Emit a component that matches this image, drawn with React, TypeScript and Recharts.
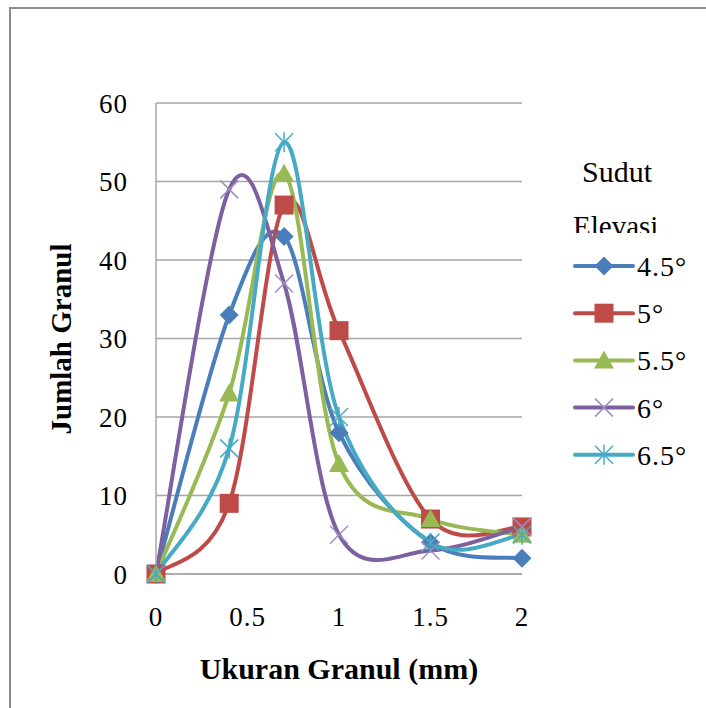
import React from "react";
import { CartesianGrid, Legend, Line, LineChart, XAxis, YAxis } from "recharts";

const xValues = [0, 0.4, 0.7, 1, 1.5, 2];
const sudut45 = [0, 33, 43, 18, 4, 2];
const sudut5 = [0, 9, 47, 31, 7, 6];
const sudut55 = [0, 23, 51, 14, 7, 5];
const sudut6 = [0, 49, 37, 5, 3, 6];
const sudut65 = [0, 16, 55, 20, 4, 5];

const xTicks = [0, 0.5, 1, 1.5, 2];
const yTicks = [0, 10, 20, 30, 40, 50, 60];

const seriesNames = ["4.5°", "5°", "5.5°", "6°", "6.5°"];
const seriesValues = [sudut45, sudut5, sudut55, sudut6, sudut65];
const seriesColors = ["#4A7EBB", "#BE4B48", "#98B954", "#7D60A0", "#46AAC5"];
const seriesMarkers = ["diamond", "square", "triangle", "cross", "star"];

const rows = xValues.map((x, i) => {
  const row: Record<string, number> = { x };
  seriesNames.forEach((name, s) => {
    row[name] = seriesValues[s][i];
  });
  return row;
});

const FONT = "'Liberation Serif', 'Times New Roman', serif";

// excel style smoothing (catmull-rom as cubic bezier)
const excelSmooth = (context: any) => {
  let pts: number[][] = [];
  return {
    areaStart() {},
    areaEnd() {},
    lineStart() {
      pts = [];
    },
    point(x: number, y: number) {
      pts.push([+x, +y]);
    },
    lineEnd() {
      const n = pts.length;
      if (!n) return;
      context.moveTo(pts[0][0], pts[0][1]);
      for (let i = 0; i < n - 1; i++) {
        const p0 = pts[Math.max(i - 1, 0)];
        const p1 = pts[i];
        const p2 = pts[i + 1];
        const p3 = pts[Math.min(i + 2, n - 1)];
        context.bezierCurveTo(
          p1[0] + (p2[0] - p0[0]) / 6,
          p1[1] + (p2[1] - p0[1]) / 6,
          p2[0] - (p3[0] - p1[0]) / 6,
          p2[1] - (p3[1] - p1[1]) / 6,
          p2[0],
          p2[1]
        );
      }
    },
  };
};

function Marker({ kind, cx, cy, color }: { kind: string; cx: number; cy: number; color: string }) {
  if (kind === "diamond") {
    return <polygon points={`${cx},${cy - 9.5} ${cx + 9.5},${cy} ${cx},${cy + 9.5} ${cx - 9.5},${cy}`} fill={color} />;
  }
  if (kind === "square") {
    return <rect x={cx - 9.5} y={cy - 9.5} width={19} height={19} fill={color} />;
  }
  if (kind === "triangle") {
    return <polygon points={`${cx},${cy - 10} ${cx + 10},${cy + 8} ${cx - 10},${cy + 8}`} fill={color} />;
  }
  const light = kind === "cross" ? "#9F8BC0" : color;
  return (
    <g stroke={light} strokeWidth={1.5}>
      <line x1={cx - 9} y1={cy - 9} x2={cx + 9} y2={cy + 9} />
      <line x1={cx - 9} y1={cy + 9} x2={cx + 9} y2={cy - 9} />
      {kind === "star" && <line x1={cx} y1={cy - 10} x2={cx} y2={cy + 10} />}
    </g>
  );
}

const makeDot = (s: number) => (props: any) => {
  const { cx, cy, index } = props;
  if (cx == null || cy == null) return <g key={`d-${s}-${index}`} />;
  return (
    <g key={`d-${s}-${index}`}>
      <Marker kind={seriesMarkers[s]} cx={cx} cy={cy} color={seriesColors[s]} />
    </g>
  );
};

const YTitle = (props: any) => (
  <text
    x={61}
    y={339}
    transform="rotate(-90 61 339)"
    textAnchor="middle"
    dy="0.35em"
    fill="#000"
    fontSize={29}
    fontWeight="bold"
    fontFamily={FONT}
  >
    {props.value}
  </text>
);

const renderLegend = () => (
  <svg width={146} height={340} style={{ display: "block" }}>
    <defs>
      <clipPath id="elevClip">
        <rect x={0} y={60} width={146} height={33} />
      </clipPath>
    </defs>
    <text x={22} y={42} fontSize={30} fontFamily={FONT} fill="#000">
      Sudut
    </text>
    <text x={13} y={96} fontSize={29} fontFamily={FONT} fill="#000" clipPath="url(#elevClip)">
      Elevasi
    </text>
    {seriesNames.map((name, s) => {
      const y = 126 + s * 47.2;
      return (
        <g key={name}>
          <line x1={15} y1={y} x2={73} y2={y} stroke={seriesColors[s]} strokeWidth={4} strokeLinecap="round" />
          <Marker kind={seriesMarkers[s]} cx={44} cy={y} color={seriesColors[s]} />
          <text x={77} y={y} dy="0.36em" fontSize={28} fontFamily={FONT} fill="#000" letterSpacing={1}>
            {name}
          </text>
        </g>
      );
    })}
  </svg>
);

export default function App() {
  return (
    <div
      style={{
        position: "absolute",
        left: 0,
        top: 0,
        width: 706,
        height: 708,
        overflow: "hidden",
        background: "#fff",
      }}
    >
      <div
        style={{
          position: "absolute",
          left: 9,
          top: 7,
          width: 900,
          height: 900,
          border: "2px solid #8c8c8c",
        }}
      />
      <div style={{ position: "absolute", left: 0, top: 0 }}>
        <LineChart width={706} height={708} data={rows} margin={{ top: 103, right: 184, bottom: 74, left: 0 }}>
          <CartesianGrid vertical={false} stroke="#a6a6a6" strokeWidth={1.5} />
          <XAxis
            dataKey="x"
            type="number"
            domain={[0, 2]}
            ticks={xTicks}
            interval={0}
            height={60}
            tickLine={false}
            tickSize={0}
            tickMargin={33}
            axisLine={{ stroke: "#a6a6a6", strokeWidth: 1.5 }}
            tick={{ fill: "#000", fontSize: 27, fontFamily: FONT, letterSpacing: 1 }}
            label={{
              value: "Ukuran Granul (mm)",
              position: "bottom",
              offset: 24,
              fill: "#000",
              fontSize: 30,
              fontWeight: "bold",
              fontFamily: FONT,
            }}
          />
          <YAxis
            type="number"
            domain={[0, 60]}
            ticks={yTicks}
            interval={0}
            width={156}
            tickLine={false}
            tickSize={0}
            tickMargin={28}
            axisLine={{ stroke: "#a6a6a6", strokeWidth: 1.5 }}
            tick={{ fill: "#000", fontSize: 27, fontFamily: FONT, letterSpacing: 1 }}
            label={{ value: "Jumlah Granul", content: YTitle }}
          />
          <Legend
            verticalAlign="middle"
            align="center"
            layout="horizontal"
            wrapperStyle={{ left: 560, top: 140, width: 146, height: 340 }}
            content={renderLegend}
          />
          {seriesNames.map((name, s) => (
            <Line
              key={name}
              dataKey={name}
              name={name}
              type={excelSmooth as any}
              stroke={seriesColors[s]}
              strokeWidth={4}
              dot={makeDot(s)}
              activeDot={false}
              isAnimationActive={false}
            />
          ))}
        </LineChart>
      </div>
    </div>
  );
}
